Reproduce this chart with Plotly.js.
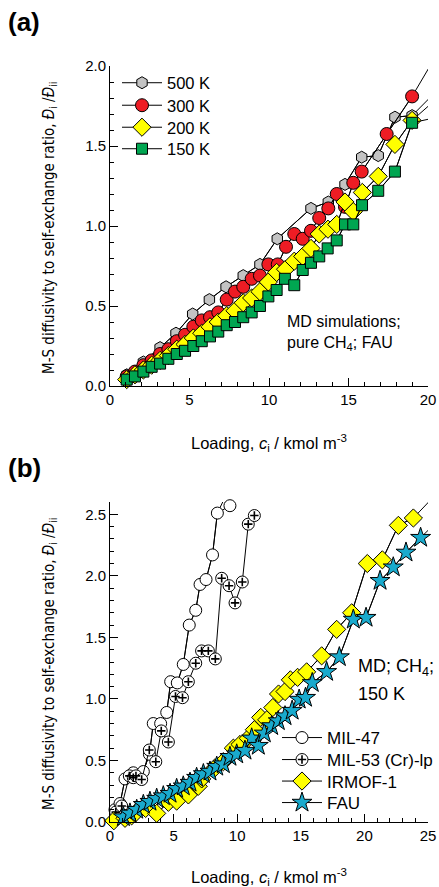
<!DOCTYPE html>
<html><head><meta charset="utf-8">
<script src="https://cdn.plot.ly/plotly-3.0.1.min.js"></script>
<style>html,body{margin:0;padding:0;background:#fff}#chart{width:439px;height:887px}</style>
</head><body><div id="chart"></div>
<script>
// ---------- Panel (a): pure CH4 in FAU, MD ----------
const x500 = [1.05, 2.1, 3.15, 4.15, 5.2, 6.25, 7.3, 8.38, 9.43, 10.52, 12.64, 13.73, 14.78, 15.83, 16.87, 17.92, 19.0, 20.6];
const y500 = [0.07, 0.15, 0.24, 0.33, 0.45, 0.54, 0.62, 0.69, 0.76, 0.92, 1.11, 1.15, 1.26, 1.43, 1.44, 1.68, 1.69, 1.85];
const x300 = [1.05, 1.57, 2.1, 2.62, 3.15, 3.67, 4.2, 4.72, 5.24, 5.77, 6.29, 6.81, 7.34, 7.86, 8.38, 8.91, 9.43, 9.96, 10.55, 11.07, 11.59, 12.12, 12.64, 13.16, 13.73, 14.26, 14.78, 15.3, 15.83, 17.4, 19.0, 20.6];
const y300 = [0.06, 0.09, 0.13, 0.16, 0.2, 0.23, 0.28, 0.32, 0.37, 0.41, 0.43, 0.46, 0.54, 0.59, 0.62, 0.67, 0.69, 0.76, 0.76, 0.87, 0.95, 0.92, 0.97, 1.05, 1.11, 1.2, 1.12, 1.27, 1.34, 1.575, 1.81, 2.08];
const x200 = [1.05, 1.57, 2.1, 2.62, 3.15, 3.67, 4.2, 4.72, 5.24, 5.77, 6.29, 6.81, 7.34, 7.86, 8.38, 8.91, 9.43, 9.96, 10.48, 11.04, 11.59, 12.12, 12.64, 13.16, 13.71, 14.26, 14.78, 15.3, 15.87, 16.87, 17.92, 19.0, 20.6];
const y200 = [0.04, 0.07, 0.1, 0.13, 0.16, 0.19, 0.23, 0.26, 0.3, 0.33, 0.37, 0.4, 0.44, 0.47, 0.52, 0.55, 0.59, 0.65, 0.71, 0.73, 0.78, 0.81, 0.86, 0.95, 0.98, 1.01, 1.15, 1.09, 1.21, 1.31, 1.51, 1.66, 1.8];
const x150 = [1.05, 1.57, 2.1, 2.62, 3.15, 3.67, 4.2, 4.72, 5.24, 5.77, 6.29, 6.81, 7.34, 7.86, 8.38, 8.91, 9.43, 9.96, 10.48, 11.0, 11.59, 12.12, 12.64, 13.16, 13.69, 14.26, 14.78, 15.3, 15.85, 16.87, 17.92, 19.0, 20.6];
const y150 = [0.04, 0.06, 0.09, 0.12, 0.14, 0.17, 0.2, 0.22, 0.25, 0.28, 0.31, 0.34, 0.38, 0.4, 0.43, 0.46, 0.5, 0.56, 0.6, 0.67, 0.63, 0.725, 0.77, 0.81, 0.86, 0.91, 1.01, 1.01, 1.13, 1.22, 1.34, 1.645, 1.68];

// ---------- Panel (b): CH4 at 150 K in four hosts ----------
const xMIL47 = [0.39, 0.79, 1.18, 1.83, 2.62, 3.1, 3.40, 3.98, 4.46, 4.77, 5.29, 5.76, 6.23, 6.74, 7.08, 7.55, 8.06, 8.44, 8.91, 9.43];
const yMIL47 = [0.10, 0.15, 0.35, 0.40, 0.41, 0.55, 0.80, 0.80, 0.89, 1.14, 1.13, 1.28, 1.60, 1.72, 1.93, 1.97, 2.17, 2.51, 2.61, 2.57];
const xMIL53 = [0.45, 0.92, 1.52, 1.83, 2.04, 2.49, 3.09, 3.6, 4.03, 4.59, 5.15, 5.7, 6.16, 6.74, 7.2, 7.73, 8.28, 8.78, 9.36, 9.83, 10.4, 10.87, 11.35];
const yMIL53 = [0.08, 0.13, 0.375, 0.36, 0.375, 0.345, 0.585, 0.49, 0.74, 0.65, 1.02, 1.01, 1.14, 1.29, 1.39, 1.39, 1.325, 1.98, 1.92, 1.78, 1.95, 2.42, 2.49];
const xIRMOF = [0.3, 1.18, 1.7, 1.97, 2.8, 3.67, 4.59, 5.24, 6.16, 6.94, 7.21, 8.25, 8.91, 9.70, 10.22, 10.87, 11.35, 11.85, 12.32, 12.8, 13.25, 13.76, 14.18, 14.75, 15.46, 16.64, 17.82, 19.0, 20.23, 21.41, 22.67, 23.85, 25.05];
const yIRMOF = [0.01, 0.03, 0.05, 0.07, 0.11, 0.07, 0.16, 0.17, 0.22, 0.29, 0.35, 0.44, 0.49, 0.60, 0.63, 0.68, 0.75, 0.85, 0.83, 0.93, 1.04, 1.06, 1.155, 1.175, 1.22, 1.35, 1.565, 1.70, 2.10, 2.13, 2.41, 2.47, 2.6];
const xFAU = [1.05, 1.57, 2.10, 2.62, 3.14, 3.67, 4.19, 4.72, 5.24, 5.76, 6.29, 6.81, 7.34, 7.86, 8.39, 8.91, 9.43, 9.96, 10.61, 11.14, 11.66, 12.13, 12.71, 13.23, 13.76, 14.32, 14.87, 15.37, 15.9, 17.03, 18.03, 19.13, 20.13, 21.23, 22.27, 23.27, 24.42, 25.5];
const yFAU = [0.04, 0.07, 0.10, 0.14, 0.165, 0.19, 0.21, 0.23, 0.27, 0.29, 0.32, 0.36, 0.39, 0.41, 0.45, 0.47, 0.53, 0.55, 0.58, 0.68, 0.62, 0.72, 0.78, 0.82, 0.86, 0.905, 0.995, 1.01, 1.13, 1.22, 1.34, 1.645, 1.66, 1.96, 2.07, 2.19, 2.31, 2.42];

const W = 439, H = 887;
const px = v => v / W, py = v => 1 - v / H;
const FONT = 'Liberation Sans, Arial, Helvetica, sans-serif';

function series(x, y, o) {
  const xi = [], yi = [];
  x.forEach((v, i) => { if (v <= o.xmax && y[i] <= o.ymax) { xi.push(v); yi.push(y[i]); } });
  const out = [];
  if (xi.length < x.length) {
    out.push({x: x, y: y, xaxis: o.xa, yaxis: o.ya, mode: 'lines', line: {color: '#000', width: 1},
      showlegend: false, hoverinfo: 'skip'});
  }
  out.push({x: xi, y: yi, xaxis: o.xa, yaxis: o.ya, name: o.name, legend: o.legend,
    mode: 'lines+markers', cliponaxis: false, line: {color: '#000', width: 1},
    marker: {symbol: o.symbol, size: o.size, color: o.color, line: {color: '#000', width: 1}}});
  return out;
}

const A = {xa: 'x', ya: 'y', xmax: 20, ymax: 2.0};
const B = {xa: 'x2', ya: 'y2', xmax: 25, ymax: 2.6};
const crossMarker = {symbol: 'cross-thin', size: 6, line: {color: '#000', width: 1.6}};

const traces = [].concat(
  series(x500, y500, {...A, legend: 'legend', name: '500 K', symbol: 'hexagon', size: 12, color: '#c3c3c3'}),
  series(x300, y300, {...A, legend: 'legend2', name: '300 K', symbol: 'circle', size: 13, color: '#ee1c24'}),
  series(x200, y200, {...A, legend: 'legend3', name: '200 K', symbol: 'diamond', size: 14, color: '#ffff00'}),
  series(x150, y150, {...A, legend: 'legend4', name: '150 K', symbol: 'square', size: 11, color: '#00a651'}),
  series(xMIL47, yMIL47, {...B, legend: 'legend5', name: 'MIL-47', symbol: 'circle', size: 12, color: '#ffffff'}),
  series(xMIL53, yMIL53, {...B, legend: 'legend6', name: 'MIL-53 (Cr)-lp', symbol: 'circle', size: 12, color: '#ffffff'}),
  [{x: xMIL53, y: yMIL53, xaxis: 'x2', yaxis: 'y2', mode: 'markers', name: ' ', legend: 'legend7',
    cliponaxis: false, hoverinfo: 'skip', marker: crossMarker}],
  series(xIRMOF, yIRMOF, {...B, legend: 'legend8', name: 'IRMOF-1', symbol: 'diamond', size: 14, color: '#ffff00'}),
  series(xFAU, yFAU, {...B, legend: 'legend9', name: 'FAU', symbol: 'star', size: 15, color: '#19aacd'})
);

function xax(dom, range, dtick, anchor) {
  return {domain: dom, anchor: anchor, range: range, dtick: dtick, tick0: 0, ticks: 'inside', ticklen: 8,
    tickwidth: 1, tickcolor: '#000', showline: true, linecolor: '#000', linewidth: 1, showgrid: false,
    zeroline: false, tickfont: {size: 15, family: FONT, color: '#000'}, fixedrange: true,
    minor: {dtick: 1, tick0: 0, ticks: 'inside', ticklen: 4, tickcolor: '#000', tickwidth: 1, showgrid: false}};
}
function yax(dom, range, anchor) {
  return {domain: dom, anchor: anchor, range: range, dtick: 0.5, tick0: 0, tickformat: '.1f', ticks: 'inside',
    ticklen: 8, tickwidth: 1, tickcolor: '#000', showline: true, linecolor: '#000', linewidth: 1, showgrid: false,
    zeroline: false, tickfont: {size: 15, family: FONT, color: '#000'}, fixedrange: true,
    minor: {dtick: 0.1, tick0: 0, ticks: 'inside', ticklen: 4, tickcolor: '#000', tickwidth: 1, showgrid: false}};
}
// one legend box per entry so that rows sit where the reference has them
function leg(left, yc, fs) {
  return {x: px(left), y: py(yc), xanchor: 'left', yanchor: 'middle', bgcolor: 'rgba(0,0,0,0)',
    borderwidth: 0, itemwidth: 40, font: {size: fs, family: FONT, color: '#000'}, tracegroupgap: 0};
}

const ytitle = 'M-S diffusivity to self-exchange ratio, <i>Đ</i><sub>i</sub> /<i>Đ</i><sub>ii</sub>';
const xtitle = 'Loading, <i>c</i><sub>i</sub> / kmol m<sup>-3</sup>';
const narrow = 'Liberation Sans Narrow, Arial Narrow, DejaVu Sans Condensed, sans-serif';

const ann = (t, x, y, o) => Object.assign({text: t, x: px(x), y: py(y), xref: 'paper', yref: 'paper',
  showarrow: false, xanchor: 'left', yanchor: 'middle', font: {family: FONT, size: 16, color: '#000'}}, o || {});

const layout = {
  width: W, height: H, margin: {l: 0, r: 0, t: 0, b: 0},
  paper_bgcolor: '#fff', plot_bgcolor: '#fff', showlegend: true,
  font: {family: FONT, color: '#000'},
  xaxis: xax([px(110), px(428)], [0, 20], 5, 'y'),
  yaxis: yax([py(386), py(66)], [0, 2.0], 'x'),
  xaxis2: xax([px(110), px(428)], [0, 25], 5, 'y2'),
  yaxis2: yax([py(822), py(502)], [0, 2.6], 'x2'),
  legend: leg(117, 83, 16.5),
  legend2: leg(117, 105.5, 16.5),
  legend3: leg(117, 127.5, 16.5),
  legend4: leg(117, 149, 16.5),
  legend5: leg(277, 738, 17),
  legend6: leg(277, 760, 17),
  legend7: leg(277, 760, 17),
  legend8: leg(277, 781.5, 17),
  legend9: leg(277, 803, 17),
  annotations: [
    ann('<b>(a)</b>', 6, 22, {font: {family: FONT, size: 26, color: '#000'}}),
    ann('<b>(b)</b>', 6, 468, {font: {family: FONT, size: 26, color: '#000'}}),
    ann(xtitle, 269, 443, {xanchor: 'center', font: {family: FONT, size: 16.5, color: '#000'}}),
    ann(xtitle, 269, 877, {xanchor: 'center', font: {family: FONT, size: 16.5, color: '#000'}}),
    ann(ytitle, 49, 228, {xanchor: 'center', textangle: -90, font: {family: narrow, size: 15, color: '#000'}}),
    ann(ytitle, 49, 664, {xanchor: 'center', textangle: -90, font: {family: narrow, size: 15, color: '#000'}}),
    ann('MD simulations;', 285, 322),
    ann('pure CH<sub>4</sub>; FAU', 285, 343),
    ann('MD; CH<sub>4</sub>;', 356, 667, {font: {family: FONT, size: 18, color: '#000'}}),
    ann('150 K', 356, 694, {font: {family: FONT, size: 18, color: '#000'}})
  ]
};

Plotly.newPlot('chart', traces, layout, {staticPlot: true, displayModeBar: false});
</script>
</body></html>
